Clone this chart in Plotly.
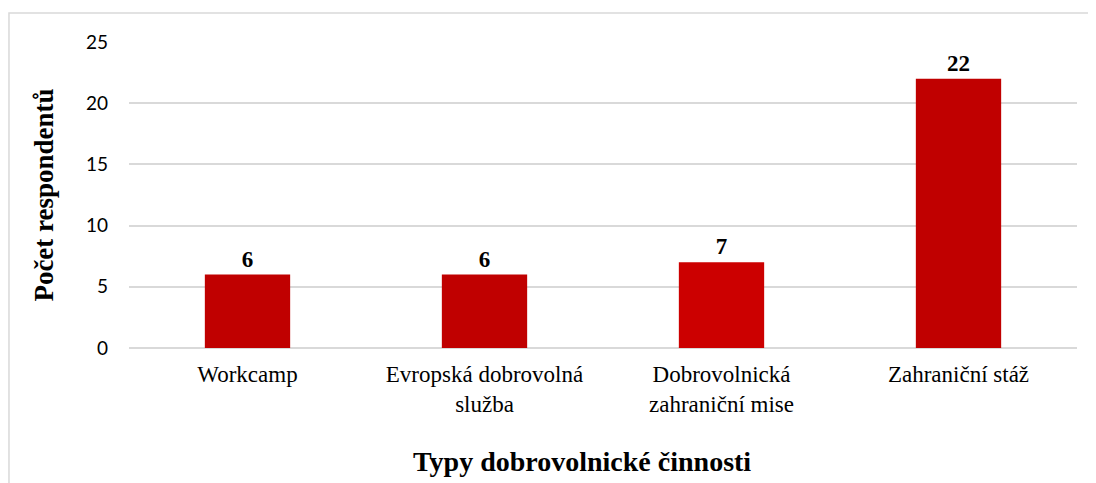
import plotly.graph_objects as go

categories = ["Workcamp", "Evropská dobrovolná<br>služba", "Dobrovolnická<br>zahraniční mise", "Zahraniční stáž"]
values = [6, 6, 7, 22]
bar_colors = ["#C00000", "#C00000", "#CC0000", "#C00000"]
y_ticks = [0, 5, 10, 15, 20, 25]

serif = "Liberation Serif, Times New Roman, serif"

fig = go.Figure()
fig.add_trace(go.Bar(
    x=categories, y=values,
    marker=dict(color=bar_colors, line=dict(width=0)),
    text=[str(v) for v in values], textposition="outside", cliponaxis=False,
    textfont=dict(family=serif, size=23, color="#000000"),
    texttemplate="<b>%{text}</b>",
))

fig.update_layout(
    width=1096, height=483,
    paper_bgcolor="#FFFFFF", plot_bgcolor="#FFFFFF",
    margin=dict(l=121, r=27, t=34, b=143),
    bargap=0.64, showlegend=False,
    shapes=[dict(type="rect", xref="paper", yref="paper",
                 x0=-0.1266, x1=1.2, y0=-0.6, y1=1.0948,
                 line=dict(color="#D9D9D9", width=1.5), fillcolor="rgba(0,0,0,0)", layer="below")],
    # x-axis title placed as annotation (it sits a bit left of centre in the original)
    annotations=[dict(text="<b>Typy dobrovolnické činnosti</b>", xref="paper", yref="paper",
                      x=0.478, y=-0.3725, xanchor="center", yanchor="middle", showarrow=False,
                      font=dict(family=serif, size=28, color="#000000"))],
)
fig.update_xaxes(
    tickfont=dict(family=serif, size=23, color="#000000"),
    showline=False, ticks="", ticklabelstandoff=10,
)
fig.update_yaxes(
    range=[0, 25], tickvals=y_ticks, ticks="", ticklabelstandoff=20,
    tickfont=dict(family="Lato, Open Sans, sans-serif", size=19, color="#000000"),
    showgrid=True, gridcolor="#D9D9D9", gridwidth=1.5,
    zeroline=True, zerolinecolor="#D9D9D9", zerolinewidth=1.5,
    showline=False,
    title=dict(text="<b>Počet respondentů</b>", font=dict(family=serif, size=27, color="#000000"), standoff=24),
)

fig.write_html("out.html")
